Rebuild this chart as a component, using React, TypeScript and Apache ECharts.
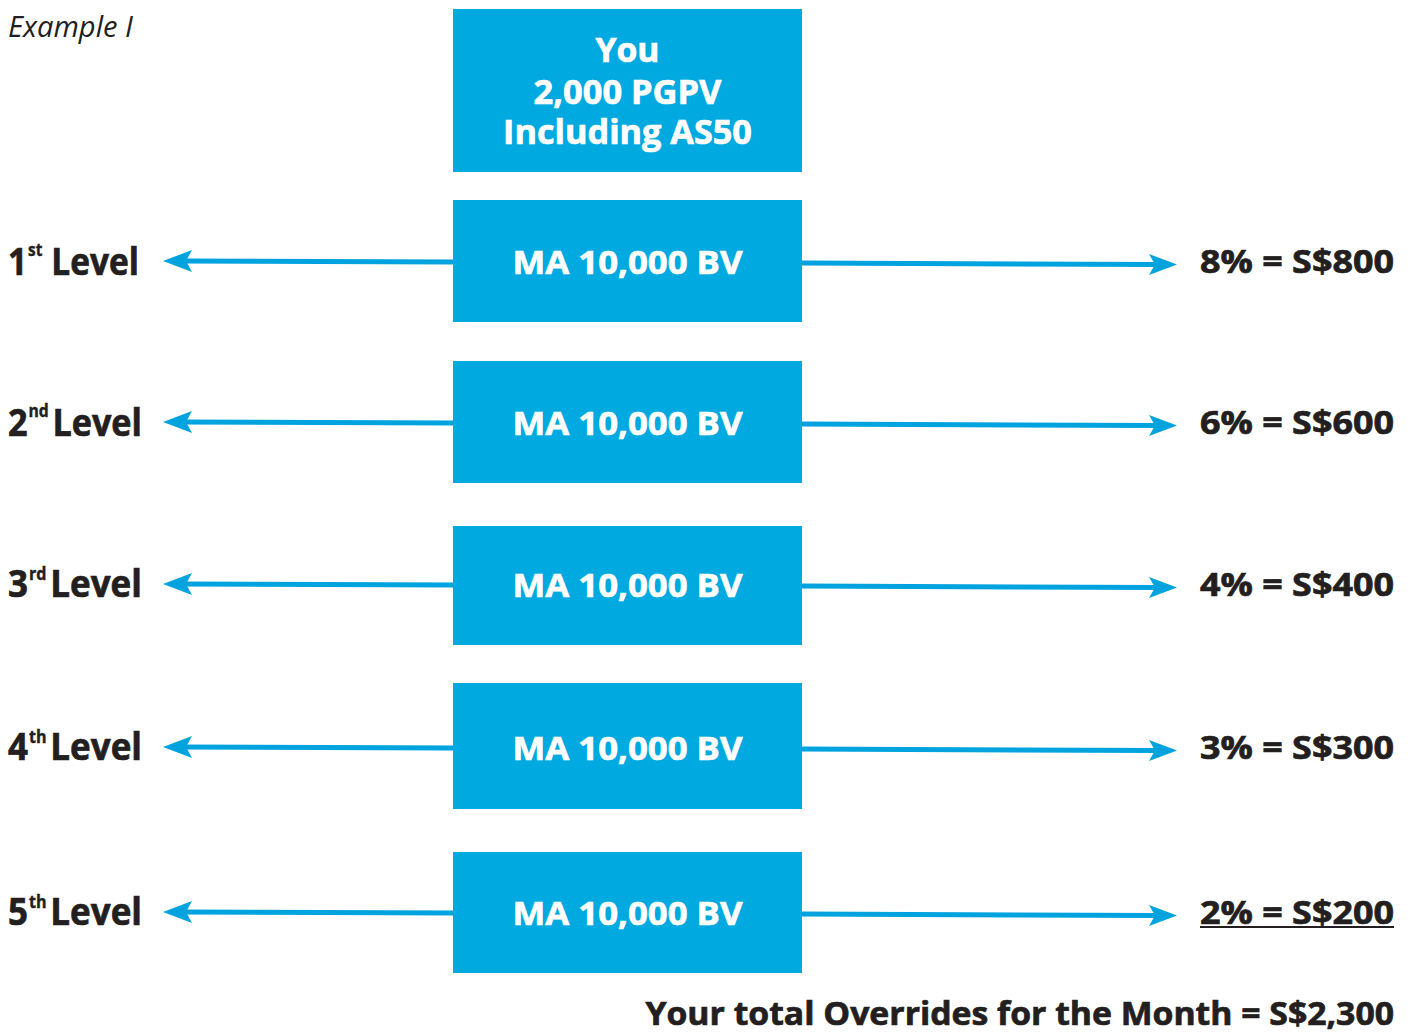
import React, { useEffect, useRef } from "react";
import * as echarts from "echarts";

// ---- data ----
const exampleTitle = "Example I";
const topBoxLines = ["You", "2,000 PGPV", "Including AS50"];
const levelNumbers = ["1", "2", "3", "4", "5"];
const levelSuffixes = ["st", "nd", "rd", "th", "th"];
const levelBoxTexts = ["MA 10,000 BV", "MA 10,000 BV", "MA 10,000 BV", "MA 10,000 BV", "MA 10,000 BV"];
const overridePercents = [8, 6, 4, 3, 2];
const overrideAmounts = ["S$800", "S$600", "S$400", "S$300", "S$200"];
const totalText = "Your total Overrides for the Month = S$2,300";

// ---- layout ----
const BLUE = "#00A9E0";
const ARROW = "#00A3DE";
const DARK = "#231F20";
const FONT = '"Open Sans", "Noto Sans", sans-serif';
const boxX = 453;
const boxW = 349;
const topBox = { y: 9, h: 163 };
const rowBoxes = [
  { y: 200, h: 122 },
  { y: 361, h: 122 },
  { y: 526, h: 119 },
  { y: 683, h: 126 },
  { y: 852, h: 121 },
];
const rowCenters = [261, 422, 584, 747, 912];
const leftLabelWidths = [131, 134, 134, 134, 134];

let measureCtx: CanvasRenderingContext2D | null = null;
function measure(text: string, font: string) {
  if (!measureCtx) measureCtx = document.createElement("canvas").getContext("2d");
  measureCtx!.font = font;
  return measureCtx!.measureText(text).width;
}

function fittedText(text: string, x: number, y: number, size: number, weight: string, style: string, targetW: number, align: string, fill: string, heavy = false) {
  const font = `${style} ${weight} ${size}px ${FONT}`;
  const w = measure(text, font);
  const sx = targetW / w;
  const st: any = {
    text,
    fill,
    font,
    align,
    textAlign: align,
    verticalAlign: "middle",
    textVerticalAlign: "middle",
  };
  if (heavy) {
    st.stroke = fill;
    st.lineWidth = 0.7;
  }
  return { type: "text", x, y, scaleX: sx, style: st };
}

function buildGraphics() {
  const els: any[] = [];
  // title
  els.push(fittedText(exampleTitle, 8, 26, 29, "normal", "italic", 125, "left", DARK));

  // top box
  els.push({ type: "rect", shape: { x: boxX, y: topBox.y, width: boxW, height: topBox.h }, style: { fill: BLUE } });
  const topWidths = [64, 188, 249];
  const topYs = [48.5, 90.5, 131.5];
  topBoxLines.forEach((t, i) => {
    els.push(fittedText(t, boxX + boxW / 2, topYs[i], 34, "bold", "normal", topWidths[i], "center", "#ffffff", true));
  });

  rowBoxes.forEach((b, i) => {
    const cy = rowCenters[i];
    // box
    els.push({ type: "rect", shape: { x: boxX, y: b.y, width: boxW, height: b.h }, style: { fill: BLUE } });
    els.push(fittedText(levelBoxTexts[i], boxX + boxW / 2, cy, 33, "bold", "normal", 230, "center", "#ffffff", true));

    // left arrow
    els.push({ type: "line", shape: { x1: boxX, y1: cy + 1, x2: 182, y2: cy }, style: { stroke: ARROW, lineWidth: 5 } });
    els.push({ type: "polygon", shape: { points: [[163, cy], [192, cy - 11], [186, cy], [192, cy + 11]] }, style: { fill: ARROW } });
    // right arrow
    els.push({ type: "line", shape: { x1: boxX + boxW, y1: cy + 2, x2: 1160, y2: cy + 3.5 }, style: { stroke: ARROW, lineWidth: 5 } });
    els.push({ type: "polygon", shape: { points: [[1177, cy + 3.5], [1149, cy - 7], [1155, cy + 3.5], [1149, cy + 14]] }, style: { fill: ARROW } });

    // left label: number + superscript + "Level"
    const mainFont = `bold 37px ${FONT}`;
    const supFont = `bold 17px ${FONT}`;
    const wNum = measure(levelNumbers[i], mainFont);
    const wSup = measure(levelSuffixes[i], supFont);
    const wLev = measure("Level", mainFont);
    const gap1 = 1;
    const gap2 = i === 0 ? 10 : 4;
    const total = wNum + gap1 + wSup + gap2 + wLev;
    const sx = leftLabelWidths[i] / total;
    const heavyStyle = { stroke: DARK, lineWidth: 0.7 };
    els.push({
      type: "group",
      x: 8,
      y: cy - 1,
      scaleX: sx,
      children: [
        { type: "text", x: 0, y: 0, style: { text: levelNumbers[i], font: mainFont, fill: DARK, ...heavyStyle, align: "left", textAlign: "left", verticalAlign: "middle", textVerticalAlign: "middle" } },
        { type: "text", x: wNum + gap1, y: -10, style: { text: levelSuffixes[i], font: supFont, fill: DARK, stroke: DARK, lineWidth: 0.4, align: "left", textAlign: "left", verticalAlign: "middle", textVerticalAlign: "middle" } },
        { type: "text", x: wNum + gap1 + wSup + gap2, y: 0, style: { text: "Level", font: mainFont, fill: DARK, ...heavyStyle, align: "left", textAlign: "left", verticalAlign: "middle", textVerticalAlign: "middle" } },
      ],
    });

    // right label
    const rt = `${overridePercents[i]}% = ${overrideAmounts[i]}`;
    els.push(fittedText(rt, 1394, cy, 32, "bold", "normal", 194, "right", DARK, true));
  });

  // underline for last row
  els.push({ type: "line", shape: { x1: 1200, y1: 927, x2: 1394, y2: 927 }, style: { stroke: DARK, lineWidth: 2 } });

  // total
  els.push(fittedText(totalText, 1394, 1012, 33, "bold", "normal", 749, "right", DARK, true));
  return els;
}

export default function App() {
  const ref = useRef<HTMLDivElement>(null);
  useEffect(() => {
    document.body.style.margin = "0";
    const chart = echarts.init(ref.current!, null, { renderer: "svg" });
    chart.setOption({
      animation: false,
      backgroundColor: "#ffffff",
      graphic: { elements: buildGraphics() },
    });
    return () => chart.dispose();
  }, []);
  return <div ref={ref} style={{ position: "absolute", left: 0, top: 0, width: 1413, height: 1035 }} />;
}
